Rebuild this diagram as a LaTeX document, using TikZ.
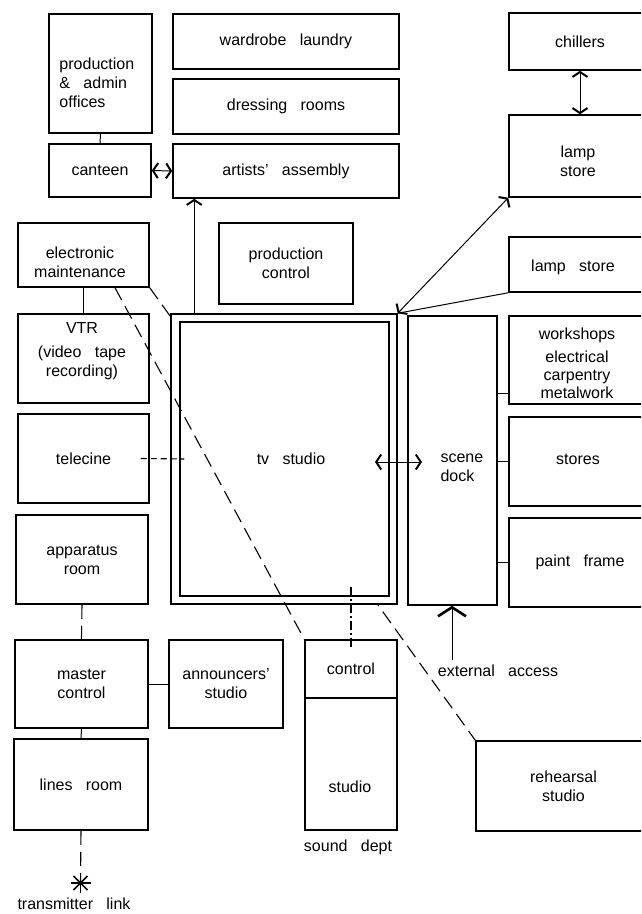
\documentclass[tikz,border=0pt]{standalone}
\usepackage{fontspec}
\setmainfont{Liberation Sans}[WordSpace=3]
\usetikzlibrary{arrows.meta}

\begin{document}
\begin{tikzpicture}[x=1pt, y=-1pt, line width=1pt,
    >={Straight Barb[length=5pt,width=15pt,line width=2pt]},
    every node/.style={font=\fontsize{16}{19}\selectfont, inner sep=0pt, align=center},
    room/.style 2 args={draw, line width=1.5pt, minimum width=#1, minimum height=#2},
    longdash/.style={line width=1.1pt, dash pattern=on 14pt off 7pt}]
  \useasboundingbox (0,0) rectangle (641,914);
  \clip (0,0) rectangle (641,914);

  % left column
  \node[room={103}{119}] (offices) at (100.5,73.5) {};
  \node[align=left, anchor=west] (officeslbl) at (59,83) {production\\\& admin\\offices};
  \node[room={102}{53}] (canteen) at (100,170.5) {canteen};
  \node[room={131}{64}] (em) at (83.5,255) {};
  \node (emlbl) at (80,262) {electronic\\maintenance};
  \node[room={131}{89}] (vtr) at (83.5,358.5) {};
  \node (vtrlbl) at (82,351) {VTR\\[5pt](video tape\\recording)};
  \node[room={131}{89}] (telecine) at (83.5,458.5) {telecine};
  \node[room={132}{89}] (app) at (82,559.5) {apparatus\\room};
  \node[room={133}{88}] (master) at (81.5,684) {master\\control};
  \node[room={114}{88}] (ann) at (226,684) {announcers'\\studio};
  \node[room={134}{91}] (lines) at (81,784.5) {lines room};
  \coordinate (tx) at (80.5,883);
  \node (txlbl) at (74,904) {transmitter link};

  % middle column
  \node[room={226}{55}] (wardrobe) at (286,41.5) {wardrobe laundry};
  \node[room={226}{55}] (dressing) at (286,106.5) {dressing rooms};
  \node[room={226}{54}] (artists) at (286,171) {artists' assembly};
  \node[room={134}{81}] (pc) at (286,263.5) {production\\control};
  \node[room={92}{58}] (ctrl) at (351,669) {control};
  \node[room={92}{132}] (sstudio) at (351,764) {};
  \node (sstudiolbl) at (350,787) {studio};
  \node (sounddept) at (348,847) {sound dept};

  % right column
  \node[room={142}{57}] (chillers) at (580,41.5) {chillers};
  \node[room={142}{82}] (lamp) at (580,156) {};
  \node (lamplbl) at (578,161) {lamp\\store};
  \node[room={142}{55}] (lamp2) at (580,264.5) {};
  \node (lamp2lbl) at (573,267) {lamp store};
  \node[room={89}{289}] (dock) at (452.5,460.5) {};
  \node[align=left, anchor=west] (docklbl) at (440,468) {scene\\dock};
  \node[room={142}{88}] (ws) at (580,360) {};
  \node[font=\fontsize{16}{18}\selectfont] (wslbl) at (577,363) {workshops\\[5pt]electrical\\carpentry\\metalwork};
  \node[room={142}{89}] (stores) at (580,461.5) {};
  \node (storeslbl) at (578,459) {stores};
  \node[room={142}{89}] (paint) at (580,562.5) {paint frame};
  \node[room={175}{90}] (rehearsal) at (563.5,786) {rehearsal\\studio};
  \node (extlbl) at (498,671) {external access};

  % studio over the hidden dashed run
  \draw[longdash] (em.south east) -- (rehearsal.north west);
  \node[room={226}{290}, fill=white] (tv) at (284,459) {};
  \node[room={209}{274}] (tvin) at (284.5,459) {};
  \node (tvlbl) at (291,459) {tv studio};

  \draw (offices.south) -- (canteen.north);
  \draw[<->] (canteen.east) -- (artists.west);
  \coordinate (up) at ([xshift=24pt]tv.north west);
  \draw[->] (up) -- (up |- artists.south);
  \draw (em.south) -- (vtr.north);
  \draw[longdash] ([xshift=31.5pt]em.south) -- (ctrl.north west);
  \draw[line width=1.1pt, dash pattern=on 6pt off 4pt] ([xshift=-9pt]telecine.east) -- ([xshift=5pt]tvin.west);
  \draw[longdash] (app.south) -- (master.north);
  \draw (master.south) -- (lines.north);
  \draw (master.east) -- (ann.west);
  \draw[longdash] (lines.south) -- (tx);
  \foreach \a in {0,45,90,135}
    \draw[line width=1.6pt] (tx) ++(\a:10pt) -- ++(\a+180:20pt);
  \draw[line width=1.1pt, dash pattern=on 9pt off 3pt on 2pt off 3pt]
    ([yshift=52pt]ctrl.north) -- ([yshift=-10pt]ctrl.north);

  \draw[<->] (chillers.south) -- (lamp.north);
  \draw[<->] (tv.north east) -- (lamp.south west);
  \draw (lamp2.south west) -- (tv.north east);
  \coordinate (tvdk) at (375,462);
  \coordinate (dktv) at (422,462);
  \draw[<->] (tvdk) -- (dktv);
  \coordinate (wsjoin) at (509,393);
  \draw (wsjoin -| dock.east) -- (wsjoin);
  \draw (dock.east |- stores.west) -- (stores.west);
  \draw (dock.east |- paint.west) -- (paint.west);
  \coordinate (extin) at (452,660);
  \draw[-{Straight Barb[length=9pt,width=28pt,line width=2.6pt]}] (extin) -- (extin |- dock.south);
\end{tikzpicture}
\end{document}
